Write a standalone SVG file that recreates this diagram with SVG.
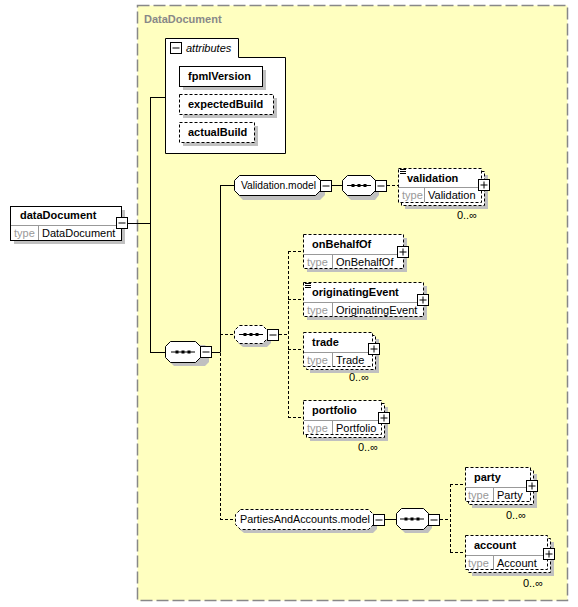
<svg xmlns="http://www.w3.org/2000/svg" width="578" height="607" viewBox="0 0 578 607">
<style>
text{font-family:"Liberation Sans",Arial,sans-serif;font-size:11px;fill:#000}
.nm{font-weight:bold}
.ty{fill:#999}
.ttl{font-weight:bold;fill:#888}
.it{font-style:italic}
.bx{fill:#fff;stroke:#000;stroke-width:1}
.dbx{fill:#fff;stroke:#000;stroke-width:1;stroke-dasharray:3,2}
.sh{fill:#c0c0c0;stroke:none}
.ln{stroke:#000;stroke-width:1;fill:none}
.dl{stroke:#000;stroke-width:1;fill:none;stroke-dasharray:3,2}
.div{stroke:#999;stroke-width:1}
</style>
<defs>
<g id="minus"><rect x="1" y="1" width="11" height="11" fill="#000"/><rect x="0.5" y="0.5" width="11" height="11" class="bx"/><line x1="2.5" y1="6" x2="9.5" y2="6" stroke="#000"/></g>
<g id="plus"><rect x="1" y="1" width="11" height="11" fill="#000"/><rect x="0.5" y="0.5" width="11" height="11" class="bx"/><line x1="2.5" y1="6" x2="9.5" y2="6" stroke="#000"/><line x1="6" y1="2.5" x2="6" y2="9.5" stroke="#000"/></g>
<g id="seqsym"><line x1="-12" y1="0" x2="12" y2="0" stroke="#000"/><rect x="-7.5" y="-1.5" width="3" height="3" fill="#000"/><rect x="-1.5" y="-1.5" width="3" height="3" fill="#000"/><rect x="4.5" y="-1.5" width="3" height="3" fill="#000"/></g>
<g id="ann"><line x1="0" y1="0.5" x2="6" y2="0.5" stroke="#000"/><line x1="0" y1="2.5" x2="6" y2="2.5" stroke="#000"/><line x1="0" y1="4.5" x2="6" y2="4.5" stroke="#000"/></g>
</defs>

<g id="DataDocument">
<rect x="137.5" y="5.5" width="430" height="595" fill="#ffffc0" stroke="#888" stroke-width="1.5" stroke-dasharray="12,4"/>
<text x="144" y="23" class="ttl">DataDocument</text>
</g>

<g id="connectors">
<line x1="128" y1="223.5" x2="150.5" y2="223.5" class="ln"/>
<line x1="150.5" y1="97" x2="150.5" y2="352" class="ln"/>
<line x1="150" y1="97.5" x2="165" y2="97.5" class="ln"/>
<line x1="150" y1="352.5" x2="165" y2="352.5" class="ln"/>
<line x1="211" y1="352.5" x2="220.5" y2="352.5" class="ln"/>
<line x1="220.5" y1="185" x2="220.5" y2="352" class="ln"/>
<line x1="220" y1="185.5" x2="234" y2="185.5" class="ln"/>
<line x1="332" y1="185.5" x2="342" y2="185.5" class="ln"/>
<line x1="387" y1="185.5" x2="398" y2="185.5" class="dl"/>
<line x1="220" y1="334.5" x2="234" y2="334.5" class="dl"/>
<line x1="220.5" y1="353" x2="220.5" y2="519" class="dl"/>
<line x1="220" y1="519.5" x2="235" y2="519.5" class="dl"/>
<line x1="279" y1="334.5" x2="288.5" y2="334.5" class="dl"/>
<line x1="288.5" y1="251" x2="288.5" y2="417" class="dl"/>
<line x1="288" y1="251.5" x2="303" y2="251.5" class="dl"/>
<line x1="288" y1="299.5" x2="303" y2="299.5" class="dl"/>
<line x1="288" y1="349.5" x2="303" y2="349.5" class="dl"/>
<line x1="288" y1="417.5" x2="303" y2="417.5" class="dl"/>
<line x1="385" y1="519.5" x2="396" y2="519.5" class="ln"/>
<line x1="440" y1="519.5" x2="450.5" y2="519.5" class="dl"/>
<line x1="450.5" y1="484" x2="450.5" y2="552" class="dl"/>
<line x1="450" y1="484.5" x2="465" y2="484.5" class="dl"/>
<line x1="450" y1="552.5" x2="465" y2="552.5" class="dl"/>
</g>

<g id="attributes">
<path d="M165.5,153.5 V38.5 H238.5 V57.5 H285.5 V153.5 Z" class="bx"/>
<use href="#minus" x="170" y="42"/>
<text x="186" y="52" class="it">attributes</text>
</g>
<g id="fpmlVersion">
<rect x="183" y="70" width="83" height="20" class="sh"/>
<rect x="179.5" y="66.5" width="83" height="20" class="bx"/>
<text x="188" y="80" class="nm">fpmlVersion</text>
</g>
<g id="expectedBuild">
<rect x="183" y="98" width="94" height="20" class="sh"/>
<rect x="179.5" y="94.5" width="94" height="20" class="dbx"/>
<text x="188" y="108" class="nm">expectedBuild</text>
</g>
<g id="actualBuild">
<rect x="183" y="126" width="75" height="20" class="sh"/>
<rect x="179.5" y="122.5" width="75" height="20" class="dbx"/>
<text x="188" y="136" class="nm">actualBuild</text>
</g>

<g id="dataDocument">
<rect x="14" y="210" width="111" height="34" class="sh"/>
<rect x="10.5" y="206.5" width="111" height="34" class="bx"/>
<line x1="11" y1="225.5" x2="121" y2="225.5" class="div"/>
<line x1="38.5" y1="226" x2="38.5" y2="240" class="div"/>
<text x="20" y="219" class="nm">dataDocument</text>
<text x="14" y="237" class="ty">type</text>
<text x="42" y="237">DataDocument</text>
<use href="#minus" x="116" y="217"/>
</g>

<g id="sequence1">
<path d="M174,345 H205 L209,350 V362 L205,366 H174 L170,362 V350 Z" class="sh"/>
<path d="M170.5,341.5 H195.5 L200.5,346.5 V357.5 L195.5,362.5 H170.5 L165.5,357.5 V346.5 Z" class="bx"/>
<use href="#seqsym" x="183" y="352"/>
<use href="#minus" x="200" y="346"/>
</g>

<g id="Validation.model">
<path d="M243,179 H320 L325,184 V195 L320,200 H243 L238,195 V184 Z" class="sh"/>
<path d="M239.5,175.5 H315.5 L320.5,180.5 V190.5 L315.5,195.5 H239.5 L234.5,190.5 V180.5 Z" class="bx"/>
<text x="241" y="189" textLength="75" lengthAdjust="spacingAndGlyphs">Validation.model</text>
<use href="#minus" x="320" y="180"/>
</g>

<g id="sequence2">
<path d="M351,179 H375 L379,184 V195 L375,200 H351 L346,195 V184 Z" class="sh"/>
<path d="M347.5,175.5 H370.5 L375.5,180.5 V190.5 L370.5,195.5 H347.5 L342.5,190.5 V180.5 Z" class="bx"/>
<use href="#seqsym" x="359" y="185.5"/>
<use href="#minus" x="375" y="180"/>
</g>

<g id="validation">
<rect x="405" y="175" width="83" height="34" class="sh"/>
<rect x="401.5" y="171.5" width="83" height="34" class="dbx"/>
<rect x="398.5" y="168.5" width="83" height="34" class="dbx"/>
<line x1="399" y1="187.5" x2="481" y2="187.5" class="div"/>
<line x1="424.5" y1="188" x2="424.5" y2="202" class="div"/>
<use href="#ann" x="400" y="169"/>
<text x="407" y="182" class="nm">validation</text>
<text x="402" y="199" class="ty">type</text>
<text x="428" y="199">Validation</text>
<use href="#plus" x="478" y="179"/>
<text x="477" y="219" text-anchor="end">0..∞</text>
</g>

<g id="sequence3">
<path d="M243,329 H267 L271,334 V343 L267,347 H243 L238,343 V334 Z" class="sh"/>
<path d="M239.5,325.5 H262.5 L267.5,330.5 V338.5 L262.5,343.5 H239.5 L234.5,338.5 V330.5 Z" class="dbx"/>
<use href="#seqsym" x="251" y="334.5"/>
<use href="#minus" x="267" y="329"/>
</g>

<g id="onBehalfOf">
<rect x="307" y="238" width="100" height="34" class="sh"/>
<rect x="303.5" y="234.5" width="100" height="34" class="dbx"/>
<line x1="304" y1="254.5" x2="403" y2="254.5" class="div"/>
<line x1="332.5" y1="255" x2="332.5" y2="268" class="div"/>
<text x="312" y="248" class="nm">onBehalfOf</text>
<text x="307" y="266" class="ty">type</text>
<text x="336" y="266">OnBehalfOf</text>
<use href="#plus" x="397" y="246"/>
</g>

<g id="originatingEvent">
<rect x="307" y="286" width="120" height="34" class="sh"/>
<rect x="303.5" y="282.5" width="120" height="34" class="dbx"/>
<line x1="304" y1="302.5" x2="423" y2="302.5" class="div"/>
<line x1="332.5" y1="303" x2="332.5" y2="316" class="div"/>
<use href="#ann" x="305" y="283"/>
<text x="312" y="296" class="nm">originatingEvent</text>
<text x="307" y="314" class="ty">type</text>
<text x="336" y="314">OriginatingEvent</text>
<use href="#plus" x="417" y="294"/>
</g>

<g id="trade">
<rect x="310" y="339" width="69" height="34" class="sh"/>
<rect x="306.5" y="335.5" width="69" height="34" class="dbx"/>
<rect x="303.5" y="332.5" width="69" height="34" class="dbx"/>
<line x1="304" y1="352.5" x2="372" y2="352.5" class="div"/>
<line x1="332.5" y1="353" x2="332.5" y2="366" class="div"/>
<text x="312" y="346" class="nm">trade</text>
<text x="307" y="364" class="ty">type</text>
<text x="336" y="364">Trade</text>
<use href="#plus" x="368" y="343"/>
<text x="369" y="381" text-anchor="end">0..∞</text>
</g>

<g id="portfolio">
<rect x="310" y="407" width="78" height="34" class="sh"/>
<rect x="306.5" y="403.5" width="78" height="34" class="dbx"/>
<rect x="303.5" y="400.5" width="78" height="34" class="dbx"/>
<line x1="304" y1="420.5" x2="381" y2="420.5" class="div"/>
<line x1="332.5" y1="421" x2="332.5" y2="434" class="div"/>
<text x="312" y="414" class="nm">portfolio</text>
<text x="307" y="432" class="ty">type</text>
<text x="336" y="432">Portfolio</text>
<use href="#plus" x="378" y="412"/>
<text x="378" y="451" text-anchor="end">0..∞</text>
</g>

<g id="PartiesAndAccounts.model">
<path d="M244,513 H373 L377,518 V529 L373,533 H244 L239,529 V518 Z" class="sh"/>
<path d="M240.5,509.5 H368.5 L373.5,514.5 V524.5 L368.5,529.5 H240.5 L235.5,524.5 V514.5 Z" class="dbx"/>
<text x="240" y="523" textLength="130" lengthAdjust="spacingAndGlyphs">PartiesAndAccounts.model</text>
<use href="#minus" x="373" y="514"/>
</g>

<g id="sequence4">
<path d="M405,512 H428 L432,517 V528 L428,533 H405 L400,528 V517 Z" class="sh"/>
<path d="M401.5,508.5 H423.5 L428.5,513.5 V524.5 L423.5,529.5 H401.5 L396.5,524.5 V513.5 Z" class="bx"/>
<use href="#seqsym" x="412" y="519"/>
<use href="#minus" x="428" y="514"/>
</g>

<g id="party">
<rect x="472" y="474" width="65" height="34" class="sh"/>
<rect x="468.5" y="470.5" width="65" height="34" class="dbx"/>
<rect x="465.5" y="467.5" width="65" height="34" class="dbx"/>
<line x1="466" y1="487.5" x2="530" y2="487.5" class="div"/>
<line x1="493.5" y1="488" x2="493.5" y2="501" class="div"/>
<text x="474" y="481" class="nm">party</text>
<text x="468" y="499" class="ty">type</text>
<text x="497" y="499">Party</text>
<use href="#plus" x="526" y="480"/>
<text x="526" y="519" text-anchor="end">0..∞</text>
</g>

<g id="account">
<rect x="472" y="542" width="82" height="34" class="sh"/>
<rect x="468.5" y="538.5" width="82" height="34" class="dbx"/>
<rect x="465.5" y="535.5" width="82" height="34" class="dbx"/>
<line x1="466" y1="555.5" x2="547" y2="555.5" class="div"/>
<line x1="493.5" y1="556" x2="493.5" y2="569" class="div"/>
<text x="474" y="549" class="nm">account</text>
<text x="468" y="567" class="ty">type</text>
<text x="497" y="567">Account</text>
<use href="#plus" x="543" y="548"/>
<text x="543" y="587" text-anchor="end">0..∞</text>
</g>
</svg>
